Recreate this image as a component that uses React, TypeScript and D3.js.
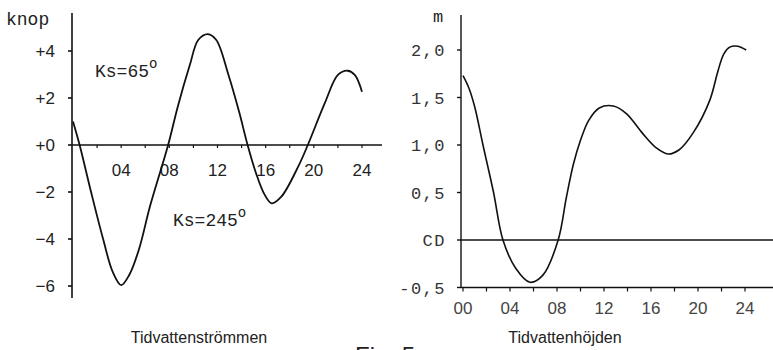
import * as React from 'react';
import * as d3 from 'd3';

// tidal current (knop): [hour, value]
const currentHours = [0, 0.55, 1.5, 2.5, 3.3, 4.0, 4.7, 5.5, 6.4, 7.9, 8.7, 9.7, 10.4, 11.2, 11.9, 12.9, 13.8, 14.5, 15.2, 15.9, 16.5, 17.3, 18.7, 19.5, 20.9, 22.0, 22.8, 23.4, 24.0];
const currentValues = [1.0, 0, -2, -4, -5.4, -5.96, -5.5, -4.4, -2.6, 0, 1.63, 3.4, 4.47, 4.72, 4.47, 3.0, 1.4, 0, -1.2, -2.1, -2.48, -2.2, -0.92, 0, 1.77, 2.98, 3.16, 2.98, 2.27];

// tidal height (m)
const heightHours = [0, 0.5, 1.0, 1.7, 2.6, 3.4, 4.5, 5.7, 6.8, 8.1, 8.8, 9.4, 10.0, 10.7, 11.6, 12.8, 13.9, 15.3, 16.45, 17.45, 18.4, 19.6, 21.0, 21.7, 22.2, 22.7, 23.4, 24.1];
const heightValues = [1.73, 1.6, 1.4, 1.0, 0.5, 0, -0.3, -0.445, -0.37, 0, 0.45, 0.8, 1.05, 1.26, 1.39, 1.41, 1.33, 1.12, 0.97, 0.905, 0.95, 1.13, 1.47, 1.78, 1.96, 2.03, 2.04, 2.0];

const currentTicks = [4, 2, 0, -2, -4, -6];
const heightTicks = [2.0, 1.5, 1.0, 0.5, 0, -0.5];
const hourLabels = [0, 4, 8, 12, 16, 20, 24];
const hourTicks = [0, 2, 4, 6, 8, 10, 12, 14, 16, 18, 20, 22, 24];

const sans = '"Liberation Sans", Arial, sans-serif';
const mono = '"Liberation Mono", "Courier New", monospace';

const pad = (h: number) => (h < 10 ? '0' + h : '' + h);

export default function App() {
  // left chart scales
  const xL = d3.scaleLinear().domain([0, 24]).range([73, 362]);
  const yL = d3.scaleLinear().domain([0, -6]).range([145, 286]);
  // right chart scales
  const xR = d3.scaleLinear().domain([0, 24]).range([463, 745]);
  const yR = d3.scaleLinear().domain([0, 2]).range([240, 50]);

  const lineL = d3.line<number>()
    .x((d, i) => xL(currentHours[i]))
    .y(d => yL(d))
    .curve(d3.curveCatmullRom.alpha(0.5));
  const lineR = d3.line<number>()
    .x((d, i) => xR(heightHours[i]))
    .y(d => yR(d))
    .curve(d3.curveCatmullRom.alpha(0.5));

  const fmtCurrent = (v: number) => (v >= 0 ? '+' + v : '\u2212' + Math.abs(v));
  const fmtHeight = (v: number) => (v === 0 ? 'CD' : (v < 0 ? '-' : '') + Math.abs(v).toFixed(1).replace('.', ','));

  return (
    <svg width={773} height={350} style={{ position: 'absolute', left: 0, top: 0, background: '#fff' }}>
      {/* ---- left: Tidvattenströmmen ---- */}
      <g stroke="#111" strokeWidth={1.6}>
        <line x1={72} y1={13} x2={72} y2={298} />
        <line x1={72} y1={yL(0)} x2={382} y2={yL(0)} />
        {currentTicks.map(t => (
          <line key={'lt' + t} x1={68} x2={72} y1={yL(t)} y2={yL(t)} />
        ))}
        {hourTicks.slice(1).map(h => (
          <line key={'lx' + h} x1={xL(h)} x2={xL(h)} y1={yL(0)} y2={yL(0) + 3} strokeWidth={1.2} />
        ))}
      </g>
      <text x={6} y={25} fontFamily={mono} fontSize={18} fill="#222">knop</text>
      {currentTicks.map(t => (
        <text key={'ll' + t} x={55} y={yL(t) + 6} textAnchor="end" fontFamily={sans} fontSize={17} fill="#222">
          {fmtCurrent(t)}
        </text>
      ))}
      {hourLabels.slice(1).map(h => (
        <text key={'lh' + h} x={xL(h)} y={176} textAnchor="middle" fontFamily={sans} fontSize={17} fill="#222">
          {pad(h)}
        </text>
      ))}
      <path d={lineL(currentValues) || ''} fill="none" stroke="#111" strokeWidth={1.8} />
      <text x={95} y={77} fontFamily={mono} fontSize={18} fill="#222">
        Ks=65<tspan dy={-9} fontSize={14}>o</tspan>
      </text>
      <text x={173} y={226} fontFamily={mono} fontSize={18} fill="#222">
        Ks=245<tspan dy={-9} fontSize={14}>o</tspan>
      </text>
      <text x={199} y={343} textAnchor="middle" fontFamily={sans} fontSize={16} fill="#222">Tidvattenströmmen</text>

      {/* ---- right: Tidvattenhöjden ---- */}
      <g stroke="#111" strokeWidth={1.4}>
        <line x1={461} y1={15} x2={461} y2={yR(-0.5)} />
        <line x1={461} y1={yR(-0.5)} x2={773} y2={yR(-0.5)} />
        <line x1={461} y1={yR(0)} x2={773} y2={yR(0)} strokeWidth={1.6} />
        {heightTicks.map(t => (
          <line key={'rt' + t} x1={457} x2={461} y1={yR(t)} y2={yR(t)} />
        ))}
        {hourTicks.map(h => (
          <line key={'rx' + h} x1={xR(h)} x2={xR(h)} y1={yR(-0.5)} y2={yR(-0.5) + 4} strokeWidth={1.2} />
        ))}
      </g>
      <text x={438} y={22} textAnchor="middle" fontFamily={mono} fontSize={17} fill="#222">m</text>
      {heightTicks.map(t => (
        <text key={'rl' + t} x={446} y={yR(t) + 6} textAnchor="end" fontFamily={mono} fontSize={17} letterSpacing={1.5} fill="#333">
          {fmtHeight(t)}
        </text>
      ))}
      {hourLabels.map(h => (
        <text key={'rh' + h} x={xR(h)} y={314} textAnchor="middle" fontFamily={sans} fontSize={17} fill="#444">
          {pad(h)}
        </text>
      ))}
      <path d={lineR(heightValues) || ''} fill="none" stroke="#111" strokeWidth={1.6} />
      <text x={565} y={343} textAnchor="middle" fontFamily={sans} fontSize={16} fill="#222">Tidvattenhöjden</text>

      <text x={355} y={364} fontFamily={sans} fontSize={24} fill="#222">Fig. 5</text>
    </svg>
  );
}
